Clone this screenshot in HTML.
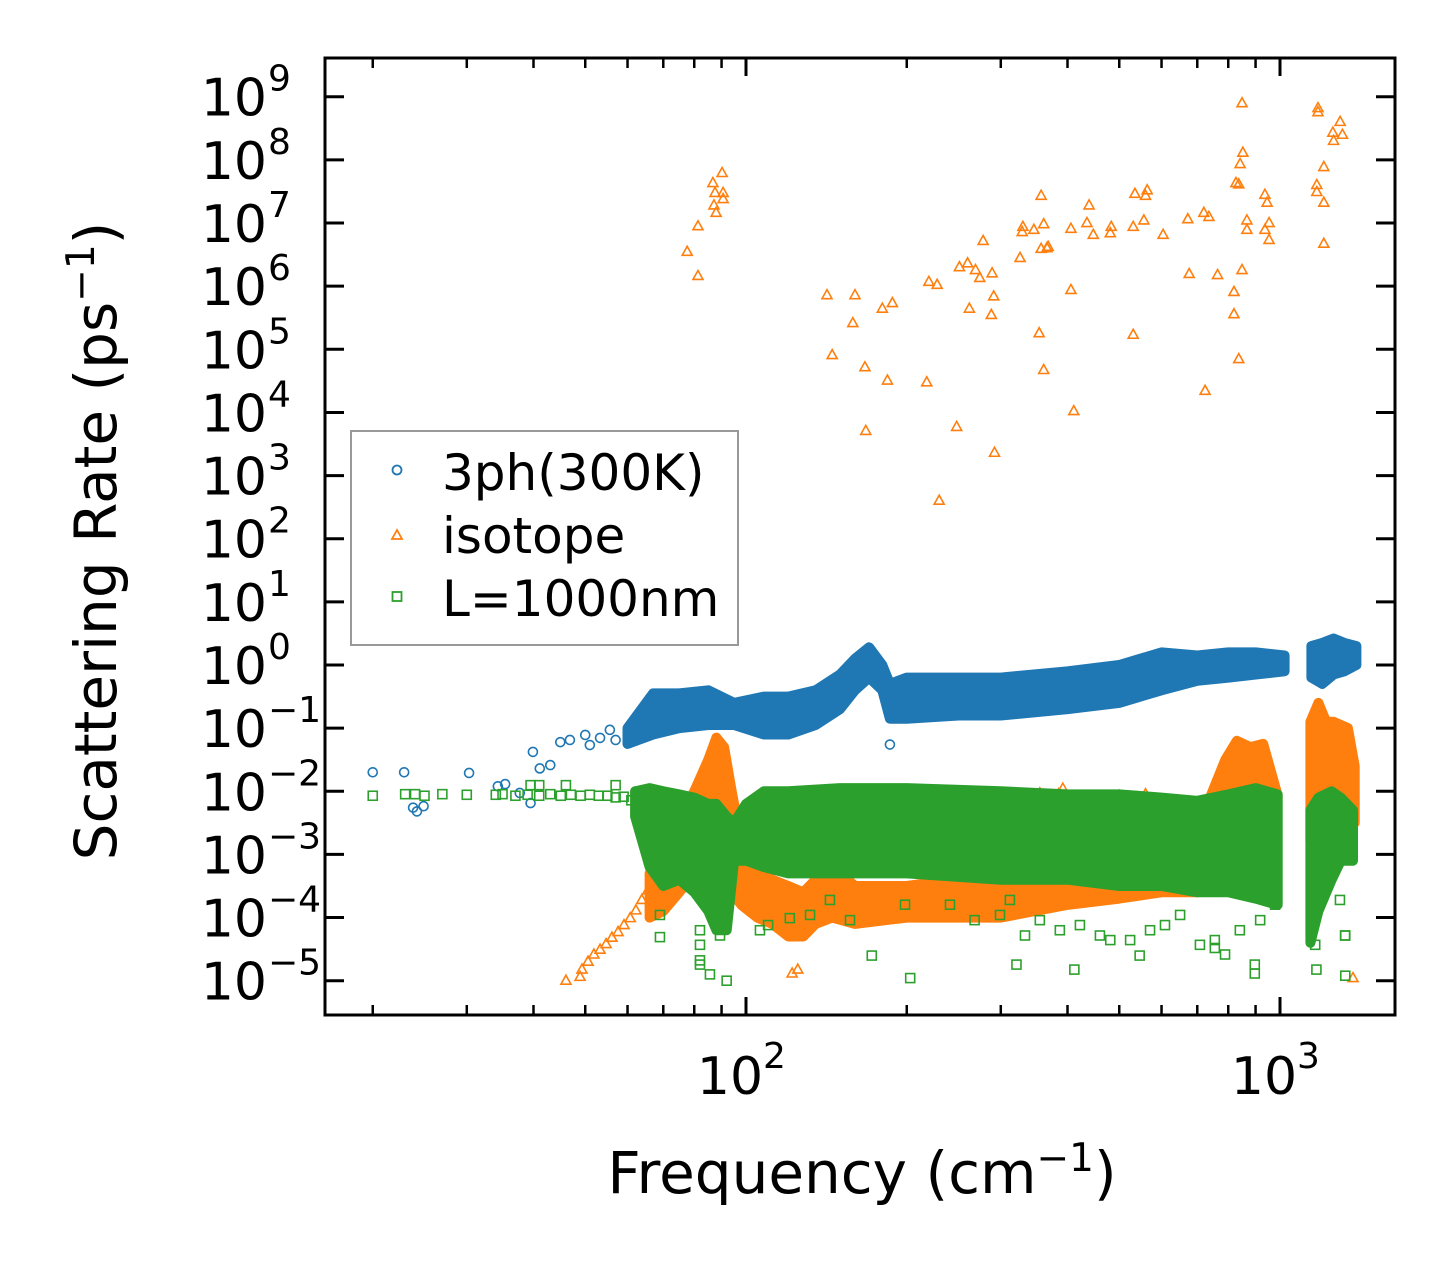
<!DOCTYPE html>
<html><head><meta charset="utf-8"><style>
body{margin:0;background:#fff}
svg text{font-family:"DejaVu Sans","Liberation Sans",sans-serif;fill:#000}
</style></head><body>
<svg id="chart" width="1455" height="1265" xmlns="http://www.w3.org/2000/svg">
<rect width="1455" height="1265" fill="#fff"/>
<g id="marks"></g>
<g id="axes"></g>
</svg>
<script>
// ---- data (frequency cm^-1, rate ps^-1) ----
const blueFreq=[20,22.9,23.8,24.2,24.9,30.3,34.3,35.4,37.7,39.5,39.9,41.1,43,44.9,46.8,50,51,53.3,55.6,57,186];
const blueRate=[0.020,0.020,0.0055,0.0048,0.0058,0.0195,0.012,0.013,0.0094,0.0065,0.042,0.023,0.026,0.060,0.065,0.078,0.054,0.07,0.094,0.065,0.055];
const blueBandFreq=[60,67,75,85,95,108,120,135,150,160,170,180,186,200,250,300,400,500,600,700,800,900,1020];
const blueBandLo=[-1.25,-1.1,-1.0,-0.95,-0.95,-1.1,-1.1,-0.95,-0.7,-0.4,-0.2,-0.4,-0.85,-0.85,-0.8,-0.8,-0.7,-0.6,-0.4,-0.25,-0.2,-0.15,-0.1];
const blueBandHi=[-1.0,-0.45,-0.45,-0.4,-0.6,-0.5,-0.5,-0.4,-0.15,0.1,0.28,0.0,-0.3,-0.2,-0.2,-0.2,-0.1,0.0,0.2,0.15,0.2,0.2,0.15];
const blueBand2Freq=[1145,1200,1260,1320,1390];
const blueBand2Lo=[-0.2,-0.3,-0.15,-0.1,0.0];
const blueBand2Hi=[0.3,0.35,0.42,0.35,0.3];

const orangeFreq=[90.2,86.7,87.5,90.6,90.6,87.1,87.9,81.3,77.6,81.3,141.8,160,158.5,180,188,145,167,184,218,167.6,230,248,292,220,228,251,260,269,274,289,291,262,288,278,326,329,330,346,361,357,406,357,368,366,406,354,361,411,
439,435,447,483,481,531,556,604,535,564,560,531,672,720,736,676,764,724,820,820,837,849,827,837,867,867,849,852,842,937,946,954,937,954,1178,1178,1296,1256,1309,1260,1208,1172,1172,1208,1208,
46,48.9,49.3,50.6,51.9,53.3,54.7,56.1,57.6,59.1,60.7,62.2,63.8,65.5,355,385,392,500,540,560,1370,122,125];
const orangeRate=[6.2e7,4.3e7,3.0e7,3.0e7,2.4e7,1.9e7,1.45e7,8.9e6,3.5e6,1.45e6,7.2e5,7.2e5,2.6e5,4.4e5,5.4e5,8.1e4,5.2e4,3.2e4,3.0e4,5.1e3,4.0e2,5.9e3,2.3e3,1.17e6,1.05e6,2.0e6,2.3e6,1.8e6,1.35e6,1.6e6,6.9e5,4.4e5,3.5e5,5.2e6,2.8e6,7.2e6,8.7e6,7.8e6,9.6e6,2.7e7,8.1e6,3.9e6,4.2e6,4.0e6,8.7e5,1.8e5,4.7e4,1.05e4,
1.9e7,1.0e7,6.5e6,8.7e6,6.9e6,8.7e6,1.1e7,6.5e6,2.9e7,3.3e7,2.7e7,1.7e5,1.15e7,1.45e7,1.25e7,1.56e6,1.5e6,2.2e4,8.1e5,3.6e5,7.0e4,1.8e6,4.3e7,4.1e7,1.1e7,7.8e6,7.9e8,1.3e8,8.6e7,2.8e7,2.1e7,1.0e7,7.8e6,5.4e6,6.6e8,5.7e8,4.0e8,2.7e8,2.5e8,2.0e8,7.7e7,4.0e7,3.1e7,2.1e7,4.7e6,
1.0e-5,1.15e-5,1.5e-5,2.0e-5,2.6e-5,3.1e-5,3.8e-5,4.8e-5,5.9e-5,7.6e-5,9.8e-5,1.3e-4,1.9e-4,2.7e-4,0.0093,0.009,0.011,0.0085,0.008,0.009,1.1e-5,1.3e-5,1.5e-5];
const orangeBandFreq=[66,70,75,80,85,88,91,94,98,105,112,120,128,135,145,160,200,300,400,500,600,700,790,830,880,930,985];
const orangeBandLo=[-4.0,-3.9,-3.6,-3.3,-3.0,-3.0,-3.2,-3.6,-3.8,-4.0,-4.1,-4.3,-4.3,-4.1,-4.0,-4.1,-4.0,-4.0,-3.8,-3.7,-3.6,-3.6,-3.3,-3.1,-3.1,-3.1,-3.3];
const orangeBandHi=[-3.3,-2.8,-2.4,-2.0,-1.5,-1.15,-1.3,-2.0,-2.8,-3.2,-3.4,-3.5,-3.6,-3.4,-3.2,-3.5,-3.5,-3.3,-3.2,-3.0,-2.6,-2.6,-1.5,-1.2,-1.3,-1.25,-2.0];
const orangeBand2Freq=[1140,1180,1220,1260,1300,1340,1380];
const orangeBand2Lo=[-2.8,-2.8,-2.7,-2.5,-2.4,-2.3,-2.5];
const orangeBand2Hi=[-0.9,-0.6,-0.9,-0.9,-0.95,-1.0,-1.6];

const greenFreq=[20,23,24,25,27,30,34,35,37,39,41,43,45,47,49,51,53,55,57,59,39.5,41,46,57,61,
69,69,82,82,82,89.4,106.2,110,120.8,131.8,143.6,156.6,198.5,241,268,299,312,333,355,387,422,460,481,524,571,609,650,708,755,789,841,918,979,1164,1295,1324,
82,85.6,92,172,203,321,412,546,755,897,897,1170,1325,1325];
const greenRate=[0.0085,0.009,0.009,0.0085,0.009,0.0088,0.0088,0.009,0.0085,0.0088,0.0085,0.009,0.0085,0.0088,0.0085,0.0088,0.0085,0.0085,0.008,0.0082,0.0125,0.0125,0.0125,0.0125,0.0072,
1.1e-4,4.9e-5,6.3e-5,3.7e-5,2.1e-5,5.2e-5,6.3e-5,7.6e-5,9.8e-5,1.1e-4,1.9e-4,9.1e-5,1.6e-4,1.6e-4,9.1e-5,1.1e-4,1.9e-4,5.2e-5,9.1e-5,6.3e-5,7.6e-5,5.2e-5,4.4e-5,4.4e-5,6.3e-5,7.6e-5,1.1e-4,3.7e-5,4.4e-5,2.6e-5,6.3e-5,9.1e-5,1.6e-4,3.7e-5,1.9e-4,5.2e-5,
1.8e-5,1.26e-5,1.0e-5,2.5e-5,1.1e-5,1.8e-5,1.5e-5,2.5e-5,3.3e-5,1.8e-5,1.3e-5,1.5e-5,5.2e-5,1.2e-5];
const greenBandFreq=[62,66,70,75,80,85,88,92,95,100,108,120,150,200,300,400,500,600,700,800,900,990];
const greenBandLo=[-2.4,-3.2,-3.5,-3.4,-3.6,-3.9,-4.2,-4.2,-3.1,-3.1,-3.2,-3.3,-3.3,-3.3,-3.4,-3.4,-3.5,-3.5,-3.6,-3.6,-3.7,-3.8];
const greenBandHi=[-2.0,-1.95,-2.0,-2.05,-2.1,-2.2,-2.2,-2.4,-2.5,-2.2,-2.0,-2.0,-1.95,-1.95,-2.0,-2.05,-2.05,-2.1,-2.15,-2.05,-1.95,-2.05];
const greenBand2Freq=[1140,1180,1250,1300,1370];
const greenBand2Lo=[-4.4,-3.9,-3.4,-3.1,-3.1];
const greenBand2Hi=[-2.3,-2.1,-2.0,-2.1,-2.3];

const yTickExp=[-5,-4,-3,-2,-1,0,1,2,3,4,5,6,7,8,9];
const xTickExp=[2,3];
const xMinorVals=[20,30,40,50,60,70,80,90,200,300,400,500,600,700,800,900];

// ---- axes ----
const L=325,R=1395,T=58,B=1015;
const xs=f=>746+534*(Math.log10(f)-2);
const ysLog=l=>665-63.14*l;
const ys=v=>ysLog(Math.log10(v));
const NS='http://www.w3.org/2000/svg';
const marks=document.getElementById('marks'),axes=document.getElementById('axes');
function mk(tag,parent,attrs){const e=document.createElementNS(NS,tag);for(const k in attrs)e.setAttribute(k,attrs[k]);parent.appendChild(e);return e;}
const C={b:'#1f77b4',o:'#ff7f0e',g:'#2ca02c'};

function band(fr,lo,hi,col,name){
  let pts=[];
  for(let i=0;i<fr.length;i++)pts.push(xs(fr[i]).toFixed(1)+','+ysLog(hi[i]).toFixed(1));
  for(let i=fr.length-1;i>=0;i--)pts.push(xs(fr[i]).toFixed(1)+','+ysLog(lo[i]).toFixed(1));
  const p=mk('polygon',marks,{points:pts.join(' '),fill:col,stroke:col,'stroke-width':10,'stroke-linejoin':'round'});
  
  
}
function circ(f,v){const e=mk('circle',marks,{cx:xs(f),cy:ys(v),r:4.5,fill:'none',stroke:C.b,'stroke-width':1.6});
  
  }
function tri(f,v){const x=xs(f),y=ys(v);const e=mk('polygon',marks,{points:`${x},${y-5.5} ${x-5},${y+3.5} ${x+5},${y+3.5}`,fill:'none',stroke:C.o,'stroke-width':1.6});
  
  }
function sq(f,v){const e=mk('rect',marks,{x:xs(f)-4.5,y:ys(v)-4.5,width:9,height:9,fill:'none',stroke:C.g,'stroke-width':1.6});
  
  }

band(blueBandFreq,blueBandLo,blueBandHi,C.b,'3ph-band');
band(blueBand2Freq,blueBand2Lo,blueBand2Hi,C.b,'3ph-band-high');
blueFreq.forEach((f,i)=>circ(f,blueRate[i]));
band(orangeBandFreq,orangeBandLo,orangeBandHi,C.o,'isotope-band');
band(orangeBand2Freq,orangeBand2Lo,orangeBand2Hi,C.o,'isotope-band-high');
orangeFreq.forEach((f,i)=>tri(f,orangeRate[i]));
band(greenBandFreq,greenBandLo,greenBandHi,C.g,'l1000-band');
band(greenBand2Freq,greenBand2Lo,greenBand2Hi,C.g,'l1000-band-high');
greenFreq.forEach((f,i)=>sq(f,greenRate[i]));

// frame
const fr=mk('rect',axes,{x:L,y:T,width:R-L,height:B-T,fill:'none',stroke:'#000','stroke-width':3});


yTickExp.forEach(e=>{
  const y=ysLog(e);
  mk('line',axes,{x1:L,x2:L+19,y1:y,y2:y,stroke:'#000','stroke-width':3});
  mk('line',axes,{x1:R,x2:R-19,y1:y,y2:y,stroke:'#000','stroke-width':3});
  const t=mk('text',axes,{x:267,y:y+19,'font-size':52,'text-anchor':'end'});
  
  
  t.textContent='10';
  const s=mk('text',axes,{x:268,y:y-6,'font-size':36,'text-anchor':'start'});
  
  
  s.textContent=e<0?'\u2212'+(-e):String(e);
});
xTickExp.forEach(e=>{
  const x=xs(Math.pow(10,e));
  mk('line',axes,{x1:x,x2:x,y1:B,y2:B-18,stroke:'#000','stroke-width':3});
  mk('line',axes,{x1:x,x2:x,y1:T,y2:T+18,stroke:'#000','stroke-width':3});
  const t=mk('text',axes,{x:x-16,y:1094,'font-size':52,'text-anchor':'middle'});
  
  
  t.textContent='10';
  const s=mk('text',axes,{x:x+17,y:1068,'font-size':36});
  
  
  s.textContent=String(e);
});
xMinorVals.forEach(v=>{
  const x=xs(v);
  mk('line',axes,{x1:x,x2:x,y1:B,y2:B-10,stroke:'#000','stroke-width':2.5});
  mk('line',axes,{x1:x,x2:x,y1:T,y2:T+10,stroke:'#000','stroke-width':2.5});
});
</script>
<svg style="position:absolute;left:0;top:0" width="1455" height="1265">
<text x="862" y="1193" font-size="58" text-anchor="middle" style="font-family:'DejaVu Sans','Liberation Sans',sans-serif">Frequency (cm<tspan font-size="39" dy="-22">−1</tspan><tspan dy="22">)</tspan></text>
<text transform="translate(116,541) rotate(-90)" font-size="58" text-anchor="middle" style="font-family:'DejaVu Sans','Liberation Sans',sans-serif">Scattering Rate (ps<tspan font-size="39" dy="-22">−1</tspan><tspan dy="22">)</tspan></text>
<g>
<rect x="351" y="431" width="387" height="214" fill="#fff" stroke="#999" stroke-width="2"/>
<circle cx="397" cy="470" r="4.5" fill="none" stroke="#1f77b4" stroke-width="1.8"/>
<polygon points="397,530 392,539 402,539" fill="none" stroke="#ff7f0e" stroke-width="1.8"/>
<rect x="392.5" y="592" width="9" height="9" fill="none" stroke="#2ca02c" stroke-width="1.8"/>
<text x="442" y="490" font-size="50" style="font-family:'DejaVu Sans','Liberation Sans',sans-serif">3ph(300K)</text>
<text x="442" y="553" font-size="50" style="font-family:'DejaVu Sans','Liberation Sans',sans-serif">isotope</text>
<text x="442" y="616" font-size="50" style="font-family:'DejaVu Sans','Liberation Sans',sans-serif">L=1000nm</text>
</g>
</svg>
</body></html>
